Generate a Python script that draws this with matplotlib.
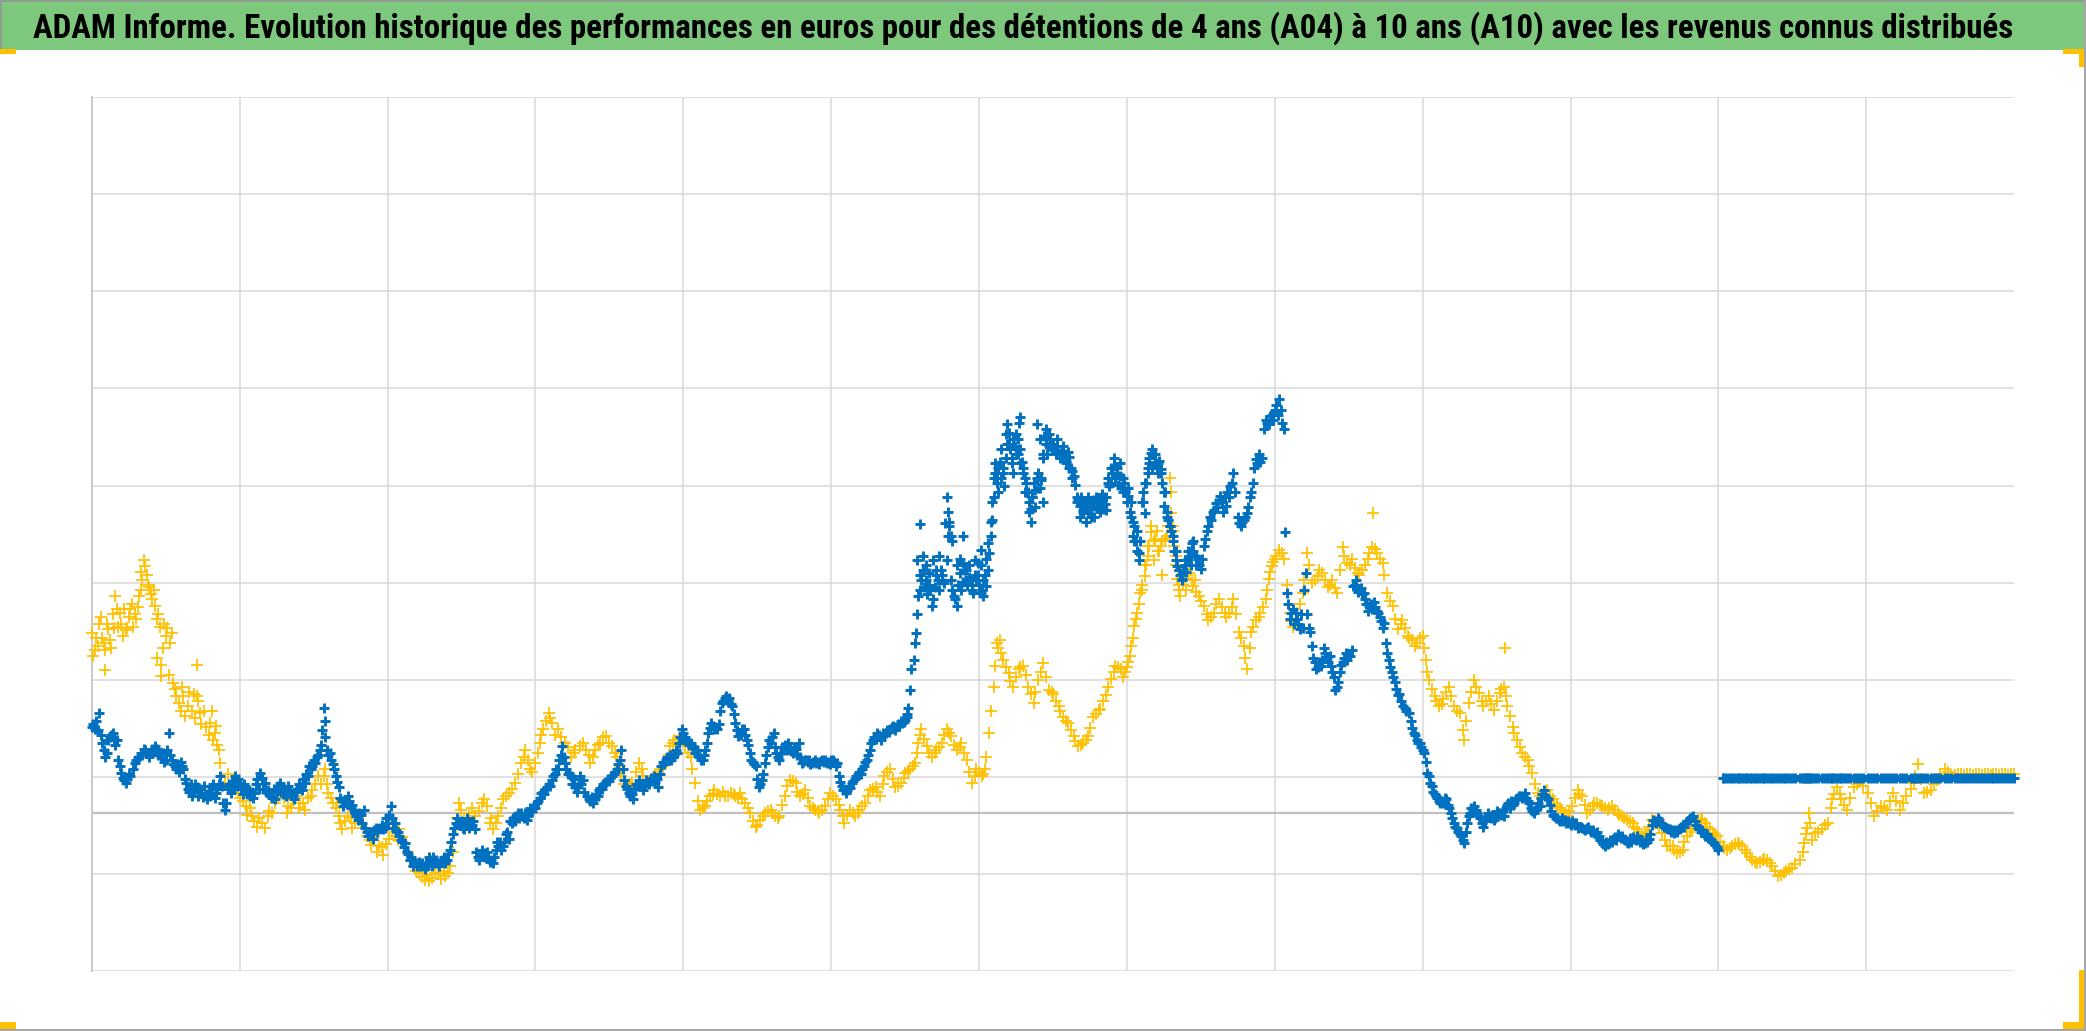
import matplotlib
matplotlib.use("Agg")
import matplotlib.pyplot as plt
from matplotlib.patches import Rectangle
from matplotlib import font_manager as fm
import numpy as np

TITLE = ("ADAM Informe. Evolution historique des performances en euros pour des "
         "détentions de 4 ans (A04) à 10 ans (A10) avec les revenus connus distribués")

# ---------------- data (x in grid units 0..13, y relative to zero line) ----------
a04_part1 = [(0.00,1.85),(0.02,1.68),(0.03,1.80),(0.05,1.95),(0.06,2.02),(0.08,1.75),(0.09,1.68),
    (0.11,1.89),(0.12,1.78),(0.14,2.05),(0.16,2.23),(0.17,2.10),(0.18,1.92),(0.20,1.95),(0.21,1.82),
    (0.23,1.88),(0.25,2.02),(0.26,2.10),(0.28,1.92),(0.30,2.00),(0.32,2.23),(0.33,2.30),(0.34,2.40),
    (0.35,2.60),(0.36,2.54),(0.37,2.45),(0.39,2.33),(0.41,2.20),(0.43,2.13),(0.44,2.00),(0.46,1.92),
    (0.47,1.41),(0.48,1.70),(0.50,1.82),(0.53,1.75),(0.55,1.34),(0.59,1.13),(0.62,1.20),(0.65,1.10),
    (0.69,1.23),(0.71,1.20),(0.73,1.03),(0.77,0.89),(0.80,0.93),(0.83,0.82),(0.86,0.65),(0.87,0.51),
    (0.90,0.31),(0.95,0.31),(0.99,0.21),(1.04,0.07),(1.08,-0.03),(1.12,-0.14),(1.15,-0.10),(1.19,-0.03),
    (1.24,0.10),(1.28,0.24),(1.33,0.07),(1.36,0.14),(1.41,0.10),(1.44,0.03),(1.49,0.24),(1.53,0.38),
    (1.57,0.38),(1.60,0.21),(1.63,0.10),(1.67,-0.03),(1.69,-0.17),(1.73,-0.03),(1.78,-0.10),(1.82,-0.10),
    (1.86,-0.24),(1.89,-0.33),(1.94,-0.34),(1.97,-0.43),(2.01,-0.27),(2.05,-0.24),(2.08,-0.17),(2.12,-0.31),
    (2.16,-0.48),(2.21,-0.62),(2.25,-0.69),(2.30,-0.67),(2.34,-0.63),(2.39,-0.65),(2.42,-0.55),(2.46,-0.17),
    (2.50,0.03),(2.55,0.00),(2.59,-0.03),(2.64,0.10),(2.67,0.07),(2.69,-0.10),(2.71,-0.17),(2.75,-0.03),
    (2.78,0.14),(2.82,0.21),(2.86,0.31),(2.90,0.51),(2.93,0.65),(2.96,0.45),(3.00,0.51),(3.03,0.72),
    (3.05,0.86),(3.09,1.03),(3.11,0.93),(3.15,0.86),(3.20,0.72),(3.24,0.58),(3.27,0.65)]
a04_part2 = [(3.30,0.69),(3.34,0.65),(3.37,0.51),(3.40,0.65),(3.44,0.72),(3.48,0.79),(3.52,0.69),
    (3.55,0.58),(3.58,0.38),(3.62,0.27),(3.65,0.31),(3.70,0.51),(3.73,0.38),(3.77,0.31),(3.81,0.38),
    (3.84,0.45),(3.88,0.51),(3.91,0.69),(3.94,0.75),(3.98,0.79),(4.01,0.69),(4.05,0.58),(4.08,0.31),
    (4.11,0.03),(4.15,0.07),(4.18,0.17),(4.21,0.24),(4.25,0.17),(4.28,0.17),(4.32,0.21),(4.35,0.17),
    (4.38,0.21),(4.42,0.10),(4.45,0.00),(4.49,-0.14),(4.52,-0.07),(4.55,0.00),(4.59,0.03),(4.62,-0.03),
    (4.65,-0.03),(4.69,0.17),(4.72,0.34),(4.76,0.31),(4.79,0.17),(4.82,0.24),(4.86,0.07),(4.89,0.03),
    (4.92,0.00),(4.96,0.07),(4.99,0.21),(5.03,0.14),(5.06,0.03),(5.09,-0.10),(5.13,0.03),(5.16,-0.03),
    (5.19,0.03),(5.23,0.10),(5.26,0.24),(5.30,0.27),(5.33,0.17),(5.36,0.38),(5.40,0.45),(5.43,0.27),
    (5.47,0.31),(5.50,0.41),(5.53,0.45),(5.57,0.51),(5.59,0.72),(5.61,0.86),(5.65,0.69),(5.68,0.58),
    (5.71,0.65),(5.75,0.72),(5.78,0.86),(5.81,0.79),(5.85,0.65),(5.88,0.72),(5.92,0.55),(5.95,0.31),
    (5.98,0.45),(6.02,0.38),(6.04,0.45),(6.05,0.58),(6.07,0.82),(6.08,1.05),(6.10,1.30),(6.11,1.51),
    (6.12,1.75),(6.14,1.78),(6.16,1.58),(6.20,1.44),(6.23,1.30),(6.27,1.48),(6.30,1.51),(6.33,1.30),
    (6.37,1.13),(6.40,1.37),(6.43,1.54),(6.47,1.27),(6.50,1.23),(6.54,1.10),(6.57,0.99),(6.60,0.93),
    (6.64,0.79),(6.67,0.69),(6.70,0.72),(6.74,0.79),(6.77,0.99),(6.81,1.06)]
a04_part3 = [(6.82,1.07),(6.86,1.21),(6.89,1.38),(6.92,1.51),(6.96,1.48),(6.99,1.45),(7.01,1.55),
    (7.03,1.72),(7.05,1.93),(7.07,2.06),(7.09,2.27),(7.12,2.44),(7.14,2.65),(7.16,2.89),(7.19,2.82),
    (7.23,2.75),(7.26,2.82),(7.30,3.09),(7.32,2.75),(7.34,2.41),(7.36,2.23),(7.39,2.41),(7.42,2.47),
    (7.45,2.34),(7.49,2.23),(7.52,2.13),(7.55,1.99),(7.59,2.06),(7.62,2.20),(7.66,2.06),(7.69,2.06),
    (7.72,2.20),(7.76,1.86),(7.79,1.72),(7.81,1.48),(7.84,1.86),(7.87,1.99),(7.90,2.06),(7.94,2.20),
    (7.96,2.41),(7.98,2.54),(8.00,2.61)]
a04_part4 = [(8.03,2.71),(8.06,2.61),(8.10,2.06),(8.12,1.92),(8.15,2.06),(8.19,2.26),(8.22,2.68),
    (8.25,2.37),(8.29,2.44),(8.32,2.47),(8.36,2.33),(8.39,2.40),(8.42,2.26),(8.46,2.74),(8.49,2.57),
    (8.52,2.61),(8.56,2.47),(8.59,2.50),(8.63,2.61),(8.66,2.74),(8.665,3.09),(8.69,2.68),(8.73,2.57),
    (8.76,2.26),(8.80,2.13),(8.83,1.89),(8.86,1.99),(8.90,1.82),(8.93,1.78),(8.96,1.75),(9.00,1.82),
    (9.02,1.58),(9.04,1.37),(9.08,1.20),(9.11,1.10),(9.14,1.17),(9.18,1.30),(9.21,1.10),(9.25,1.03),
    (9.28,0.75),(9.31,1.13),(9.35,1.37),(9.38,1.24),(9.41,1.10),(9.45,1.20),(9.48,1.06),(9.52,1.24),
    (9.55,1.30),(9.555,1.70),(9.57,1.10),(9.61,0.89),(9.64,0.75),(9.67,0.62),(9.71,0.55),(9.74,0.41),
    (9.78,0.21),(9.81,0.14),(9.84,0.24),(9.88,0.14),(9.91,0.07),(9.94,0.03),(9.98,-0.03),(10.01,0.07),
    (10.05,0.24),(10.08,0.17),(10.11,0.00),(10.15,0.07),(10.18,0.10),(10.21,0.07),(10.25,0.03),
    (10.28,0.07),(10.32,0.00),(10.35,-0.03),(10.38,-0.07),(10.42,-0.10),(10.45,-0.17),(10.48,-0.24),
    (10.52,-0.21),(10.55,-0.07),(10.59,-0.10),(10.62,-0.21),(10.65,-0.34),(10.69,-0.34),(10.72,-0.41),
    (10.76,-0.38),(10.79,-0.24),(10.82,-0.17),(10.86,-0.07),(10.89,-0.07),(10.92,-0.14),(10.96,-0.21),
    (10.99,-0.24),(11.03,-0.34),(11.06,-0.38),(11.09,-0.34),(11.13,-0.31),(11.16,-0.34),(11.19,-0.41),
    (11.23,-0.48),(11.26,-0.51),(11.30,-0.48),(11.33,-0.48),(11.36,-0.55),(11.40,-0.65)]
a04_part5 = [(11.42,-0.64),(11.46,-0.60),(11.50,-0.57),(11.55,-0.48),(11.58,-0.31),(11.60,-0.15),
    (11.61,0.00),(11.65,-0.21),(11.70,-0.17),(11.74,-0.10),(11.77,0.14),(11.80,0.27),(11.83,0.14),
    (11.87,0.03),(11.92,0.27),(11.96,0.34),(12.01,0.21),(12.05,-0.03),(12.10,0.07),(12.14,0.03),
    (12.18,0.21),(12.23,0.03),(12.27,0.17),(12.32,0.31),(12.35,0.50),(12.39,0.21),(12.44,0.24),
    (12.48,0.34),(12.53,0.45),(12.57,0.39),(12.62,0.40),(12.66,0.39),(12.70,0.40),(12.74,0.40),
    (12.78,0.39),(12.82,0.40),(12.86,0.40),(12.90,0.39),(12.94,0.40),(12.98,0.40),(13.00,0.40)]
# additional readings of the A04 point cloud (spread around the trend)
a04_cloud = [(0.01,1.62),(0.04,1.72),(0.07,1.80),(0.09,1.47),(0.10,1.95),(0.13,1.70),(0.15,1.90),
    (0.19,2.06),(0.22,2.10),(0.24,1.90),(0.27,2.15),(0.29,2.05),(0.31,2.12),(0.33,2.48),(0.38,2.35),
    (0.40,2.25),(0.42,2.30),(0.44,1.60),(0.45,2.05),(0.47,1.52),(0.49,1.95),(0.51,1.90),(0.52,1.42),
    (0.54,1.85),(0.56,1.28),(0.57,1.20),(0.60,1.05),(0.61,1.30),(0.63,1.00),(0.66,1.25),(0.68,1.05),
    (0.70,0.98),(0.71,1.52),(0.72,1.15),(0.74,0.92),(0.76,1.05),(0.79,0.80),(0.81,1.05),(0.82,0.75),
    (0.84,0.90),(0.85,0.70),(0.92,0.40),(0.93,0.25),(0.97,0.28),(1.00,0.15),(1.02,0.12),(1.05,-0.02),
    (1.07,0.05),(1.10,-0.08),(1.13,-0.05),(1.17,-0.15),(1.20,0.02),(1.22,0.00),(1.26,0.15),(1.30,0.15),
    (1.32,0.00),(1.35,0.05),(1.38,0.18),(1.40,0.05),(1.43,0.10),(1.46,0.15),(1.48,0.18),(1.51,0.30),
    (1.55,0.30),(1.58,0.45),(1.59,0.30),(1.62,0.15),(1.65,0.05),(1.66,0.10),(1.68,-0.10),(1.71,-0.08),
    (1.75,-0.05),(1.76,-0.15),(1.80,-0.05),(1.84,-0.15),(1.88,-0.28),(1.91,-0.25),(1.93,-0.40),
    (1.96,-0.35),(1.99,-0.32),(2.03,-0.20),(2.07,-0.28),(2.10,-0.25),(2.14,-0.40),(2.18,-0.55),
    (2.19,-0.60),(2.23,-0.66),(2.27,-0.64),(2.28,-0.70),(2.32,-0.62),(2.36,-0.68),(2.38,-0.60),
    (2.41,-0.62),(2.44,-0.40),(2.47,-0.05),(2.48,0.10),(2.52,-0.05),(2.57,0.05),(2.62,0.02),(2.65,0.14),
    (2.70,-0.05),(2.73,-0.10),(2.77,0.05),(2.80,0.18),(2.84,0.25),(2.88,0.40),(2.92,0.58),(2.95,0.55),
    (2.98,0.42),(3.02,0.62),(3.04,0.80),(3.07,0.95),(3.10,0.98),(3.13,0.80),(3.17,0.78),(3.22,0.68),
    (3.26,0.62),(3.32,0.72),(3.36,0.60),(3.39,0.58),(3.42,0.70),(3.46,0.78),(3.50,0.72),(3.54,0.62),
    (3.57,0.48),(3.60,0.30),(3.64,0.30),(3.68,0.42),(3.72,0.45),(3.75,0.32),(3.79,0.35),(3.83,0.42),
    (3.86,0.48),(3.90,0.60),(3.93,0.72),(3.96,0.72),(4.00,0.74),(4.03,0.62),(4.06,0.45),(4.10,0.12),
    (4.13,0.05),(4.16,0.12),(4.20,0.20),(4.23,0.20),(4.27,0.22),(4.30,0.18),(4.34,0.20),(4.37,0.15),
    (4.40,0.14),(4.44,0.05),(4.47,-0.08),(4.50,-0.12),(4.54,-0.03),(4.57,0.02),(4.60,0.00),(4.64,-0.05),
    (4.67,0.08),(4.70,0.28),(4.74,0.33),(4.77,0.22),(4.81,0.20),(4.84,0.15),(4.88,0.05),(4.91,0.02),
    (4.94,0.03),(4.98,0.14),(5.01,0.18),(5.05,0.08),(5.08,-0.03),(5.11,-0.02),(5.15,0.00),(5.18,0.00),
    (5.21,0.07),(5.25,0.18),(5.28,0.25),(5.31,0.22),(5.35,0.30),(5.38,0.42),(5.42,0.35),(5.45,0.28),
    (5.49,0.36),(5.52,0.43),(5.55,0.48),(5.58,0.62),(5.60,0.80),(5.63,0.76),(5.66,0.62),(5.70,0.62),
    (5.73,0.68),(5.76,0.80),(5.80,0.82),(5.83,0.70),(5.87,0.68),(5.90,0.62),(5.93,0.42),(5.97,0.38),
    (6.00,0.42),(6.03,0.40),(6.13,1.70),(6.15,1.65),(6.18,1.50),(6.21,1.36),(6.25,1.40),(6.28,1.50),
    (6.32,1.42),(6.35,1.22),(6.38,1.25),(6.42,1.45),(6.45,1.40),(6.49,1.25),(6.52,1.15),(6.55,1.05),
    (6.59,0.95),(6.62,0.85),(6.65,0.74),(6.69,0.70),(6.72,0.75),(6.75,0.88),(6.79,1.02),(6.84,1.15),
    (6.87,1.30),(6.91,1.45),(6.94,1.50),(6.97,1.40),(7.00,1.50),(7.02,1.62),(7.04,1.80),(7.06,2.00),
    (7.08,2.15),(7.10,2.35),(7.13,2.55),(7.15,2.75),(7.18,2.80),(7.21,2.70),(7.24,2.80),(7.28,2.95),
    (7.31,2.90),(7.33,2.55),(7.35,2.30),(7.38,2.35),(7.40,2.45),(7.44,2.40),(7.47,2.28),(7.50,2.18),
    (7.54,2.05),(7.57,2.02),(7.60,2.15),(7.64,2.12),(7.67,2.02),(7.71,2.12),(7.74,2.05),(7.77,1.80),
    (7.80,1.60),(7.83,1.70),(7.85,1.92),(7.89,2.02),(7.92,2.12),(7.95,2.30),(7.97,2.48),(7.99,2.58),
    (8.01,2.65),(8.05,2.68),(8.08,2.35),(8.11,1.98),(8.14,2.00),(8.17,2.15),(8.20,2.40),(8.23,2.55),
    (8.27,2.40),(8.30,2.50),(8.34,2.40),(8.37,2.35),(8.41,2.32),(8.44,2.50),(8.47,2.65),(8.51,2.55),
    (8.54,2.52),(8.57,2.45),(8.61,2.55),(8.64,2.68),(8.68,2.72),(8.71,2.62),(8.74,2.45),(8.78,2.18),
    (8.81,2.00),(8.85,1.95),(8.88,1.90),(8.91,1.80),(8.95,1.72),(8.98,1.80),(9.01,1.70),(9.03,1.45),
    (9.06,1.28),(9.09,1.15),(9.13,1.12),(9.16,1.25),(9.19,1.20),(9.23,1.05),(9.27,0.85),(9.29,0.95),
    (9.33,1.25),(9.36,1.30),(9.40,1.15),(9.43,1.15),(9.46,1.12),(9.50,1.15),(9.53,1.28),(9.56,1.20),
    (9.59,1.00),(9.62,0.82),(9.66,0.68),(9.69,0.58),(9.72,0.48),(9.76,0.30),(9.79,0.18),(9.83,0.20),
    (9.86,0.18),(9.89,0.10),(9.93,0.05),(9.96,0.00),(9.99,0.02),(10.03,0.15),(10.06,0.20),(10.10,0.08),
    (10.13,0.03),(10.16,0.10),(10.20,0.08),(10.23,0.05),(10.26,0.05),(10.30,0.03),(10.33,-0.02),
    (10.36,-0.05),(10.40,-0.08),(10.43,-0.14),(10.46,-0.20),(10.50,-0.22),(10.53,-0.14),(10.57,-0.08),
    (10.60,-0.15),(10.64,-0.28),(10.67,-0.34),(10.70,-0.38),(10.74,-0.40),(10.77,-0.30),(10.81,-0.20),
    (10.84,-0.12),(10.88,-0.06),(10.91,-0.10),(10.94,-0.17),(10.98,-0.22),(11.01,-0.30),(11.04,-0.36),
    (11.08,-0.36),(11.11,-0.32),(11.14,-0.32),(11.18,-0.38),(11.21,-0.45),(11.25,-0.50),(11.28,-0.50),
    (11.31,-0.47),(11.35,-0.52),(11.38,-0.60),(11.44,-0.62),(11.48,-0.58),(11.52,-0.53),(11.57,-0.40),
    (11.59,-0.22),(11.62,-0.10),(11.63,-0.28),(11.67,-0.20),(11.72,-0.12),(11.76,0.05),(11.78,0.20),
    (11.82,0.20),(11.85,0.08),(11.89,0.15),(11.94,0.30),(11.98,0.28),(12.03,0.10),(12.07,0.02),
    (12.12,0.05),(12.16,0.12),(12.20,0.12),(12.25,0.10),(12.30,0.25),(12.33,0.38),(12.37,0.35),
    (12.41,0.22),(12.46,0.30),(12.50,0.40),(12.55,0.42),(12.60,0.39),(12.64,0.40),(12.68,0.40),
    (12.72,0.39),(12.76,0.40),(12.80,0.40),(12.84,0.39),(12.88,0.40),(12.92,0.40),(12.96,0.39),
    (7.10,2.30),(7.12,2.55),(7.14,2.75),(7.16,2.95),(7.18,2.60),(7.20,2.90),(7.22,2.70),(7.24,2.45),
    (7.27,2.85),(7.29,3.45),(7.30,3.30),(7.31,2.95),(7.33,2.65),(7.35,2.35),(7.37,2.50),(7.40,2.30),
    (7.43,2.55),(7.46,2.40)]

a10_part1 = [(0.00,0.89),(0.02,0.86),(0.05,1.03),(0.07,0.72),(0.09,0.58),(0.11,0.75),(0.14,0.82),
    (0.17,0.75),(0.18,0.55),(0.20,0.41),(0.23,0.31),(0.26,0.38),(0.29,0.51),(0.33,0.62),(0.36,0.65),
    (0.39,0.58),(0.43,0.69),(0.46,0.62),(0.50,0.55),(0.52,0.82),(0.54,0.55),(0.57,0.45),(0.61,0.48),
    (0.64,0.31),(0.68,0.17),(0.71,0.27),(0.74,0.21),(0.78,0.14),(0.81,0.27),(0.84,0.21),(0.87,0.38),
    (0.90,0.03),(0.94,0.21),(0.97,0.38),(1.00,0.31),(1.04,0.24),(1.07,0.17),(1.10,0.21),(1.14,0.41),
    (1.17,0.31),(1.21,0.17),(1.24,0.14),(1.27,0.31),(1.31,0.17),(1.34,0.24),(1.37,0.14),(1.41,0.27),
    (1.44,0.31),(1.48,0.45),(1.51,0.51),(1.54,0.65),(1.56,0.85),(1.57,1.08),(1.575,0.95),(1.59,0.65),
    (1.62,0.55),(1.64,0.45),(1.67,0.27),(1.70,0.07),(1.73,0.17),(1.77,0.03),(1.80,-0.07),(1.84,0.03),
    (1.87,-0.24),(1.90,-0.27),(1.94,-0.17),(1.97,-0.17),(2.02,0.07),(2.05,-0.10),(2.08,-0.24),
    (2.12,-0.31),(2.15,-0.48),(2.19,-0.51),(2.22,-0.55),(2.25,-0.58),(2.29,-0.48),(2.32,-0.51),
    (2.35,-0.55),(2.39,-0.51),(2.42,-0.38),(2.46,-0.10),(2.49,-0.10),(2.52,-0.17),(2.56,-0.10),
    (2.59,-0.17),(2.61,-0.45),(2.65,-0.41),(2.68,-0.45),(2.71,-0.51),(2.75,-0.34),(2.78,-0.34),
    (2.82,-0.27),(2.84,-0.10),(2.87,-0.03),(2.91,-0.03),(2.94,-0.07),(2.97,0.03),(3.01,0.10),
    (3.04,0.21),(3.08,0.27),(3.11,0.34),(3.14,0.45),(3.18,0.69),(3.20,0.51),(3.23,0.41),(3.27,0.27)]
a10_part2 = [(3.30,0.38),(3.32,0.34),(3.36,0.14),(3.39,0.10),(3.43,0.24),(3.47,0.31),(3.52,0.38),
    (3.55,0.45),(3.58,0.65),(3.60,0.34),(3.63,0.21),(3.66,0.14),(3.70,0.34),(3.73,0.24),(3.76,0.31),
    (3.80,0.38),(3.83,0.27),(3.85,0.48),(3.89,0.58),(3.92,0.55),(3.96,0.62),(3.99,0.86),(4.02,0.75),
    (4.06,0.69),(4.09,0.65),(4.12,0.55),(4.15,0.65),(4.17,0.82),(4.19,0.93),(4.23,0.86),(4.26,1.13),
    (4.29,1.20),(4.33,1.10),(4.35,0.93),(4.37,0.79),(4.41,0.86),(4.43,0.75),(4.46,0.55),(4.49,0.48),
    (4.51,0.27),(4.53,0.34),(4.55,0.51),(4.59,0.72),(4.61,0.82),(4.64,0.58),(4.68,0.65),(4.71,0.72),
    (4.74,0.62),(4.78,0.72),(4.80,0.51),(4.83,0.55),(4.87,0.51),(4.90,0.51),(4.94,0.55),(4.97,0.51),
    (5.00,0.55),(5.04,0.51),(5.05,0.38),(5.08,0.24),(5.10,0.21),(5.14,0.31),(5.17,0.38),(5.21,0.45),
    (5.24,0.55),(5.27,0.72),(5.31,0.82),(5.34,0.75),(5.37,0.82),(5.41,0.89),(5.44,0.89),(5.48,0.93),
    (5.51,0.99),(5.52,1.08),(5.53,1.27),(5.54,1.48),(5.56,1.58),(5.57,1.75),(5.575,1.85),(5.59,2.23),
    (5.61,2.40),(5.63,2.33),(5.66,2.47),(5.68,2.13),(5.70,2.33),(5.74,2.50),(5.76,2.37),(5.77,2.99),
    (5.79,2.85),(5.80,2.95),(5.83,2.23),(5.85,2.13),(5.87,2.47),(5.89,2.57),(5.93,2.43),(5.96,2.26),
    (5.99,2.57),(6.01,2.27),(6.03,2.23),(6.05,2.34)]
a10_part3 = [(6.07,2.68),(6.09,3.02),(6.11,3.50),(6.14,3.61),(6.17,3.37),(6.20,3.91),(6.24,3.78),
    (6.27,4.02),(6.29,3.61),(6.32,3.40),(6.35,3.13),(6.38,3.33),(6.42,3.43),(6.44,3.88),(6.47,3.78),
    (6.51,3.74),(6.54,3.71),(6.57,3.78),(6.61,3.67),(6.64,3.47),(6.68,3.16),(6.71,3.19),(6.74,3.09),
    (6.78,3.16),(6.81,3.23),(6.84,3.13),(6.88,3.37),(6.91,3.57),(6.95,3.47),(6.98,3.40),(7.01,3.26),
    (7.05,2.95),(7.08,2.68),(7.12,3.09),(7.14,3.50),(7.16,3.71),(7.19,3.61),(7.23,3.54),(7.25,3.16),
    (7.28,3.02),(7.31,2.85),(7.34,2.54),(7.37,2.41),(7.41,2.61),(7.44,2.78),(7.48,2.61),(7.50,2.51),
    (7.53,2.82),(7.57,3.02),(7.60,3.19),(7.63,3.26),(7.67,3.16),(7.70,3.37),(7.72,3.50),(7.76,2.99),
    (7.79,3.02),(7.81,3.09),(7.84,3.30),(7.87,3.64),(7.90,3.61),(7.94,4.05),(7.97,4.09),(8.00,4.15),
    (8.03,4.26),(8.05,4.02),(8.07,2.89),(8.08,2.27),(8.11,2.06),(8.14,2.06),(8.17,1.89),(8.21,2.47),
    (8.24,1.86),(8.28,1.48),(8.31,1.51),(8.34,1.65),(8.38,1.51),(8.41,1.27),(8.44,1.45),(8.48,1.65),
    (8.51,1.62),(8.53,2.34),(8.57,2.30),(8.60,2.27),(8.64,2.13),(8.67,2.17),(8.70,2.06),(8.74,1.96),
    (8.76,1.65),(8.79,1.45),(8.83,1.21)]
a10_part4 = [(8.87,1.10),(8.91,1.03),(8.94,0.82),(8.98,0.72),(9.01,0.62),(9.03,0.41),(9.05,0.31),
    (9.09,0.17),(9.12,0.10),(9.16,0.14),(9.19,0.00),(9.22,-0.14),(9.26,-0.24),(9.28,-0.31),(9.31,-0.03),
    (9.35,0.07),(9.38,-0.03),(9.41,-0.14),(9.45,-0.03),(9.48,-0.07),(9.52,0.00),(9.55,-0.03),(9.58,0.10),
    (9.62,0.10),(9.65,0.17),(9.69,0.21),(9.72,0.10),(9.75,0.00),(9.79,0.07),(9.82,0.24),(9.85,0.14),
    (9.89,-0.03),(9.92,-0.07),(9.96,-0.07),(9.99,-0.10),(10.02,-0.10),(10.06,-0.14),(10.09,-0.17),
    (10.12,-0.14),(10.16,-0.21),(10.19,-0.24),(10.23,-0.34),(10.26,-0.31),(10.29,-0.27),(10.33,-0.24),
    (10.36,-0.27),(10.39,-0.31),(10.43,-0.27),(10.46,-0.27),(10.50,-0.31),(10.53,-0.27),(10.56,-0.07),
    (10.60,-0.07),(10.63,-0.14),(10.67,-0.17),(10.70,-0.21),(10.73,-0.17),(10.77,-0.14),(10.80,-0.07),
    (10.83,-0.03),(10.87,-0.17),(10.90,-0.21),(10.94,-0.27),(10.97,-0.31),(11.00,-0.38)]
# additional readings of the A10 point cloud
a10_cloud = [(0.01,0.92),(0.03,0.95),(0.04,0.85),(0.06,0.80),(0.08,0.65),(0.10,0.62),(0.12,0.78),
    (0.13,0.80),(0.15,0.76),(0.16,0.70),(0.19,0.48),(0.21,0.36),(0.22,0.34),(0.24,0.35),(0.25,0.40),
    (0.28,0.45),(0.30,0.55),(0.31,0.58),(0.34,0.60),(0.35,0.66),(0.37,0.62),(0.38,0.62),(0.40,0.63),
    (0.41,0.66),(0.42,0.64),(0.44,0.66),(0.45,0.60),(0.47,0.58),(0.48,0.62),(0.49,0.52),(0.51,0.65),
    (0.53,0.60),(0.55,0.50),(0.56,0.48),(0.58,0.50),(0.59,0.42),(0.60,0.52),(0.62,0.45),(0.63,0.35),
    (0.65,0.25),(0.66,0.22),(0.67,0.30),(0.69,0.22),(0.70,0.30),(0.72,0.18),(0.73,0.25),(0.75,0.16),
    (0.76,0.28),(0.77,0.20),(0.79,0.22),(0.80,0.18),(0.82,0.30),(0.83,0.15),(0.85,0.25),(0.86,0.30),
    (0.88,0.28),(0.89,0.10),(0.91,0.10),(0.92,0.25),(0.93,0.30),(0.95,0.32),(0.96,0.26),(0.98,0.28),
    (0.99,0.35),(1.01,0.25),(1.02,0.20),(1.03,0.30),(1.05,0.20),(1.06,0.24),(1.08,0.22),(1.09,0.15),
    (1.11,0.30),(1.12,0.35),(1.13,0.25),(1.15,0.36),(1.16,0.25),(1.18,0.22),(1.19,0.24),(1.20,0.20),
    (1.22,0.15),(1.23,0.25),(1.25,0.22),(1.26,0.28),(1.28,0.22),(1.29,0.20),(1.30,0.25),(1.32,0.20),
    (1.33,0.28),(1.35,0.20),(1.36,0.18),(1.38,0.22),(1.39,0.25),(1.40,0.30),(1.42,0.24),(1.43,0.35),
    (1.45,0.40),(1.46,0.38),(1.47,0.48),(1.49,0.48),(1.50,0.55),(1.52,0.58),(1.53,0.60),(1.55,0.70),
    (1.58,0.78),(1.60,0.60),(1.61,0.62),(1.63,0.50),(1.65,0.38),(1.66,0.32),(1.68,0.15),(1.69,0.12),
    (1.71,0.12),(1.72,0.10),(1.74,0.12),(1.75,0.05),(1.76,0.08),(1.78,0.00),(1.79,-0.03),(1.81,0.00),
    (1.82,-0.02),(1.83,-0.10),(1.85,-0.15),(1.86,-0.20),(1.88,-0.22),(1.89,-0.20),(1.91,-0.18),
    (1.92,-0.15),(1.93,-0.20),(1.95,-0.15),(1.96,-0.12),(1.98,-0.15),(1.99,-0.05),(2.00,-0.10),
    (2.01,-0.02),(2.03,-0.05),(2.04,-0.15),(2.06,-0.18),(2.07,-0.20),(2.09,-0.28),(2.10,-0.30),
    (2.11,-0.35),(2.13,-0.40),(2.14,-0.42),(2.16,-0.45),(2.17,-0.55),(2.18,-0.50),(2.20,-0.55),
    (2.21,-0.50),(2.23,-0.52),(2.24,-0.55),(2.26,-0.52),(2.27,-0.55),(2.28,-0.45),(2.30,-0.55),
    (2.31,-0.45),(2.33,-0.48),(2.34,-0.52),(2.36,-0.50),(2.37,-0.48),(2.38,-0.45),(2.40,-0.48),
    (2.41,-0.42),(2.43,-0.30),(2.44,-0.22),(2.45,-0.15),(2.47,-0.05),(2.48,-0.12),(2.50,-0.08),
    (2.51,-0.15),(2.53,-0.10),(2.54,-0.05),(2.55,-0.15),(2.57,-0.12),(2.58,-0.08),(2.60,-0.40),
    (2.62,-0.48),(2.63,-0.42),(2.64,-0.38),(2.66,-0.45),(2.67,-0.40),(2.69,-0.50),(2.70,-0.48),
    (2.72,-0.45),(2.73,-0.38),(2.74,-0.30),(2.76,-0.30),(2.77,-0.38),(2.79,-0.30),(2.80,-0.22),
    (2.81,-0.20),(2.83,-0.08),(2.85,-0.05),(2.86,-0.08),(2.88,0.00),(2.89,-0.05),(2.90,0.00),
    (2.92,-0.05),(2.93,0.00),(2.95,-0.03),(2.96,0.05),(2.98,0.02),(2.99,0.08),(3.00,0.05),(3.02,0.12),
    (3.03,0.15),(3.05,0.22),(3.06,0.20),(3.07,0.25),(3.09,0.30),(3.10,0.28),(3.12,0.38),(3.13,0.40),
    (3.15,0.45),(3.16,0.55),(3.17,0.60),(3.19,0.58),(3.21,0.45),(3.22,0.40),(3.24,0.38),(3.25,0.30),
    (3.26,0.35),(3.28,0.22),(3.29,0.28),(3.31,0.30),(3.33,0.22),(3.35,0.18),(3.37,0.12),(3.38,0.16),
    (3.40,0.14),(3.41,0.20),(3.42,0.18),(3.44,0.26),(3.45,0.25),(3.46,0.30),(3.48,0.32),(3.49,0.35),
    (3.50,0.33),(3.51,0.38),(3.53,0.40),(3.54,0.42),(3.56,0.50),(3.57,0.55),(3.59,0.45),(3.61,0.28),
    (3.62,0.25),(3.64,0.18),(3.65,0.20),(3.67,0.25),(3.68,0.30),(3.69,0.28),(3.71,0.30),(3.72,0.28),
    (3.74,0.30),(3.75,0.34),(3.77,0.30),(3.78,0.36),(3.79,0.33),(3.81,0.32),(3.82,0.35),(3.84,0.40),
    (3.86,0.52),(3.87,0.50),(3.88,0.55),(3.90,0.55),(3.91,0.60),(3.93,0.58),(3.94,0.60),(3.95,0.65),
    (3.97,0.72),(3.98,0.78),(4.00,0.82),(4.01,0.78),(4.03,0.72),(4.04,0.70),(4.05,0.72),(4.07,0.68),
    (4.08,0.62),(4.10,0.60),(4.11,0.58),(4.13,0.55),(4.14,0.60),(4.16,0.72),(4.18,0.88),(4.20,0.90),
    (4.21,0.86),(4.22,0.88),(4.24,0.92),(4.25,1.05),(4.27,1.15),(4.28,1.18),(4.30,1.15),(4.31,1.18),
    (4.32,1.12),(4.34,1.02),(4.36,0.85),(4.38,0.82),(4.39,0.80),(4.40,0.86),(4.42,0.80),(4.44,0.70),
    (4.45,0.62),(4.47,0.52),(4.48,0.50),(4.50,0.35),(4.52,0.30),(4.54,0.40),(4.56,0.60),(4.57,0.68),
    (4.58,0.75),(4.60,0.78),(4.62,0.68),(4.63,0.62),(4.65,0.55),(4.66,0.62),(4.67,0.68),(4.69,0.70),
    (4.70,0.65),(4.72,0.68),(4.73,0.64),(4.75,0.68),(4.76,0.66),(4.77,0.60),(4.79,0.58),(4.81,0.53),
    (4.82,0.55),(4.84,0.52),(4.85,0.55),(4.86,0.50),(4.88,0.53),(4.89,0.55),(4.91,0.52),(4.92,0.50),
    (4.93,0.54),(4.95,0.52),(4.96,0.55),(4.98,0.53),(4.99,0.50),(5.01,0.55),(5.02,0.52),(5.03,0.48),
    (5.06,0.32),(5.07,0.28),(5.09,0.25),(5.11,0.24),(5.12,0.28),(5.13,0.26),(5.15,0.33),(5.16,0.35),
    (5.18,0.40),(5.19,0.42),(5.20,0.40),(5.22,0.48),(5.23,0.52),(5.25,0.60),(5.26,0.65),(5.28,0.75),
    (5.29,0.78),(5.30,0.76),(5.32,0.80),(5.33,0.78),(5.35,0.82),(5.36,0.80),(5.38,0.85),(5.39,0.83),
    (5.40,0.86),(5.42,0.90),(5.43,0.85),(5.45,0.92),(5.46,0.90),(5.47,0.95),(5.49,0.94),(5.50,0.96),
    (5.515,1.02),(5.58,2.05),(5.60,2.30),(5.62,2.50),(5.64,2.40),(5.65,2.25),(5.67,2.30),(5.69,2.20),
    (5.71,2.45),(5.72,2.40),(5.73,2.30),(5.75,2.45),(5.78,2.60),(5.81,2.40),(5.82,2.30),(5.84,2.20),
    (5.86,2.35),(5.88,2.30),(5.90,2.50),(5.91,2.40),(5.92,2.35),(5.94,2.40),(5.95,2.30),(5.97,2.45),
    (5.98,2.40),(6.00,2.35),(6.02,2.30),(6.04,2.45),(6.06,2.50),(6.08,2.85),(6.10,3.25),(6.12,3.45),
    (6.13,3.55),(6.15,3.45),(6.16,3.50),(6.18,3.65),(6.19,3.80),(6.21,3.75),(6.22,3.60),(6.23,3.85),
    (6.25,3.70),(6.26,3.85),(6.28,3.75),(6.30,3.50),(6.31,3.30),(6.33,3.30),(6.34,3.20),(6.36,3.25),
    (6.37,3.40),(6.39,3.45),(6.40,3.50),(6.41,3.35),(6.43,3.65),(6.45,3.80),(6.46,3.70),(6.48,3.85),
    (6.49,3.75),(6.50,3.80),(6.52,3.70),(6.53,3.78),(6.55,3.65),(6.56,3.72),(6.58,3.70),(6.59,3.62),
    (6.60,3.72),(6.62,3.55),(6.63,3.52),(6.65,3.38),(6.66,3.25),(6.67,3.22),(6.69,3.25),(6.70,3.12),
    (6.72,3.20),(6.73,3.15),(6.75,3.20),(6.76,3.05),(6.77,3.22),(6.79,3.25),(6.80,3.15),(6.82,3.20),
    (6.83,3.28),(6.85,3.18),(6.86,3.25),(6.87,3.45),(6.89,3.40),(6.90,3.50),(6.92,3.45),(6.93,3.55),
    (6.94,3.38),(6.96,3.35),(6.97,3.30),(6.99,3.32),(7.00,3.20),(7.02,3.10),(7.03,3.05),(7.04,2.85),
    (7.06,2.80),(7.07,2.90),(7.09,2.80),(7.10,3.20),(7.11,3.30),(7.13,3.40),(7.15,3.60),(7.17,3.55),
    (7.18,3.70),(7.20,3.55),(7.21,3.50),(7.22,3.62),(7.24,3.40),(7.26,3.30),(7.27,3.10),(7.29,2.95),
    (7.30,2.90),(7.32,2.70),(7.33,2.60),(7.35,2.50),(7.36,2.45),(7.38,2.50),(7.39,2.55),(7.40,2.48),
    (7.42,2.65),(7.43,2.70),(7.45,2.70),(7.46,2.65),(7.47,2.55),(7.49,2.55),(7.51,2.62),(7.52,2.75),
    (7.54,2.90),(7.55,2.95),(7.56,3.05),(7.58,3.10),(7.59,3.12),(7.61,3.15),(7.62,3.22),(7.64,3.20),
    (7.65,3.10),(7.66,3.25),(7.68,3.30),(7.69,3.25),(7.71,3.40),(7.73,3.30),(7.75,3.05),(7.77,2.95),
    (7.78,3.00),(7.80,3.05),(7.82,3.15),(7.83,3.25),(7.85,3.40),(7.86,3.55),(7.88,3.60),(7.89,3.70),
    (7.91,3.65),(7.93,3.95),(7.95,4.02),(7.96,4.00),(7.98,4.10),(7.99,4.05),(8.01,4.20),(8.02,4.10),
    (8.04,4.15),(8.06,3.95),(8.09,2.15),(8.10,2.00),(8.12,2.10),(8.13,1.95),(8.15,2.00),(8.16,1.95),
    (8.18,2.05),(8.19,1.90),(8.20,2.30),(8.22,2.05),(8.23,1.90),(8.25,1.72),(8.26,1.60),(8.27,1.55),
    (8.29,1.50),(8.30,1.55),(8.32,1.58),(8.33,1.70),(8.35,1.60),(8.36,1.55),(8.37,1.62),(8.39,1.45),
    (8.40,1.40),(8.42,1.30),(8.43,1.35),(8.45,1.52),(8.46,1.55),(8.47,1.60),(8.49,1.58),(8.50,1.62),
    (8.52,1.68),(8.54,2.35),(8.55,2.40),(8.56,2.28),(8.58,2.32),(8.59,2.25),(8.61,2.20),(8.62,2.15),
    (8.63,2.08),(8.65,2.15),(8.66,2.10),(8.68,2.12),(8.69,2.08),(8.71,2.02),(8.72,1.98),(8.73,1.90),
    (8.75,1.75),(8.77,1.58),(8.78,1.50),(8.80,1.40),(8.81,1.35),(8.82,1.28),(8.84,1.22),(8.85,1.15),
    (8.88,1.08),(8.89,1.05),(8.92,0.95),(8.93,0.88),(8.95,0.80),(8.96,0.75),(8.97,0.72),(8.99,0.68),
    (9.00,0.65),(9.02,0.52),(9.04,0.38),(9.06,0.28),(9.07,0.22),(9.08,0.20),(9.10,0.15),(9.11,0.12),
    (9.13,0.12),(9.14,0.10),(9.15,0.15),(9.17,0.08),(9.18,0.05),(9.20,-0.05),(9.21,-0.10),(9.23,-0.15),
    (9.24,-0.20),(9.25,-0.22),(9.27,-0.28),(9.29,-0.20),(9.30,-0.10),(9.32,0.00),(9.33,0.05),(9.34,0.02),
    (9.36,0.03),(9.37,0.00),(9.39,-0.05),(9.40,-0.10),(9.42,-0.08),(9.43,-0.05),(9.44,0.00),(9.46,-0.05),
    (9.47,-0.02),(9.49,-0.05),(9.50,0.02),(9.51,0.00),(9.53,-0.02),(9.54,0.02),(9.56,0.05),(9.57,0.08),
    (9.59,0.05),(9.60,0.12),(9.61,0.08),(9.63,0.14),(9.64,0.15),(9.66,0.18),(9.67,0.15),(9.68,0.18),
    (9.70,0.15),(9.71,0.12),(9.73,0.05),(9.74,0.02),(9.76,0.03),(9.77,0.05),(9.78,0.10),(9.80,0.15),
    (9.81,0.20),(9.83,0.18),(9.84,0.15),(9.86,0.08),(9.87,0.02),(9.88,-0.02),(9.90,-0.05),(9.91,-0.05),
    (9.93,-0.08),(9.94,-0.05),(9.95,-0.08),(9.97,-0.10),(9.98,-0.08),(10.00,-0.12),(10.01,-0.08),
    (10.03,-0.12),(10.04,-0.10),(10.05,-0.15),(10.07,-0.14),(10.08,-0.15),(10.10,-0.18),(10.11,-0.15),
    (10.13,-0.18),(10.14,-0.20),(10.15,-0.18),(10.17,-0.22),(10.18,-0.20),(10.20,-0.28),(10.21,-0.30),
    (10.22,-0.32),(10.24,-0.30),(10.25,-0.32),(10.27,-0.28),(10.28,-0.30),(10.30,-0.25),(10.31,-0.28),
    (10.32,-0.22),(10.34,-0.26),(10.35,-0.24),(10.37,-0.28),(10.38,-0.30),(10.40,-0.26),(10.41,-0.30),
    (10.42,-0.25),(10.44,-0.28),(10.45,-0.24),(10.47,-0.30),(10.48,-0.28),(10.49,-0.32),(10.51,-0.28),
    (10.52,-0.30),(10.54,-0.22),(10.55,-0.12),(10.57,-0.08),(10.58,-0.10),(10.59,-0.05),(10.61,-0.10),
    (10.62,-0.12),(10.64,-0.14),(10.65,-0.15),(10.66,-0.16),(10.68,-0.20),(10.69,-0.18),(10.71,-0.18),
    (10.72,-0.20),(10.74,-0.15),(10.75,-0.14),(10.76,-0.12),(10.78,-0.10),(10.79,-0.08),(10.81,-0.05),
    (10.82,-0.04),(10.84,-0.08),(10.85,-0.12),(10.86,-0.15),(10.88,-0.20),(10.89,-0.18),(10.91,-0.24),
    (10.92,-0.22),(10.93,-0.26),(10.95,-0.28),(10.96,-0.30),(10.98,-0.33),(10.99,-0.35),
    (5.60,2.98),(5.58,2.60),(5.60,2.45),(5.62,2.65),(5.64,2.55),(5.66,2.35),(5.69,2.60),(5.71,2.50),
    (5.73,2.65),(5.75,2.40),(5.78,3.25),(5.79,3.10),(5.80,3.00),(5.81,2.85),(5.82,2.80),(5.85,2.55),
    (5.87,2.62),(5.89,2.38),(5.89,2.85),(5.91,2.50),(5.93,2.55),(5.95,2.35),(5.97,2.60),(5.99,2.45),
    (6.01,2.55),(6.01,2.71),(6.03,2.40),(6.05,2.62),(6.06,2.78),(6.08,3.00),(6.09,3.20),(6.10,3.45),
    (6.11,3.60),(6.12,3.40),(6.13,3.30),(6.15,3.75),(6.16,3.55),(6.18,3.90),(6.19,4.00),(6.20,3.80),
    (6.22,3.65),(6.23,3.50),(6.25,3.90),(6.26,3.70),(6.28,3.60),(6.28,4.08),(6.30,3.55),(6.31,3.45),
    (6.32,3.30),(6.34,3.10),(6.35,3.00),(6.36,3.25),(6.38,3.15),(6.40,3.35),(6.42,3.45),(6.43,3.20),
    (6.39,4.00),(6.41,3.85),(6.43,3.70),(6.45,3.95),(6.47,3.90),(6.49,3.80),(6.51,3.75),(6.53,3.85),
    (6.55,3.70),(6.57,3.72),(6.59,3.60),(6.61,3.55),(6.63,3.45),(6.66,3.20),(6.68,3.05),(6.70,3.10),
    (6.72,3.00),(6.74,3.25),(6.76,3.15),(6.78,3.05),(6.80,3.20),(6.82,3.10),(6.84,3.25),(6.86,3.12),
    (6.87,3.40),(6.89,3.55),(6.91,3.65),(6.93,3.50),(6.95,3.60),(6.97,3.45),(6.99,3.30),(7.01,3.35),
    (7.03,3.20),(7.04,3.00),(7.05,2.80),(7.07,2.70),(7.08,2.60),(7.11,3.20),(7.12,3.40),(7.14,3.55),
    (7.15,3.65),(7.17,3.75),(7.19,3.70),(7.21,3.60),(7.23,3.50),(7.25,3.30),(7.27,3.05),(7.29,2.95),
    (7.31,2.80),(7.33,2.70),(7.35,2.50),(7.37,2.40),(7.39,2.60),(7.41,2.70),(7.43,2.55),(7.45,2.80),
    (7.47,2.65)]
# A10 is flat from 11.02 to the last date
a10_flat_value = 0.36
a10_flat_start, a10_flat_end = 11.02, 13.0

# ---------------- styling -------------------------------------------------------
W, H = 2086, 1031
BLUE = "#0070C0"
GOLD = "#FFC000"
GREEN = "#7DC87D"

fig = plt.figure(figsize=(W / 100, H / 100), dpi=100)
fig.patch.set_facecolor("white")

def px_rect(x0, y0, x1, y1, color, z=5):
    fig.patches.append(Rectangle((x0 / W, 1 - y1 / H), (x1 - x0) / W, (y1 - y0) / H,
                                 transform=fig.transFigure, facecolor=color,
                                 edgecolor="none", zorder=z))

# title bar
px_rect(0, 0, W, 49.5, GREEN, z=1)
# frame lines
px_rect(0, 0, W, 1.5, "#8E9E8E", z=2)
px_rect(0, 0, 1.5, 49, "#8E9E8E", z=2)
px_rect(W - 2, 0, W, H, "#A6A6A6", z=2)
px_rect(0, H - 2, W, H, "#A6A6A6", z=2)
# selection handles (yellow corner marks)
px_rect(0, 49, 16, 54, GOLD)
px_rect(2063, 49, 2084, 54, GOLD)
px_rect(2079, 49, 2084, 67, GOLD)
px_rect(0, 1022, 16, 1029, GOLD)
px_rect(2079, 970, 2084, 1029, GOLD)
px_rect(2063, 1022, 2084, 1029, GOLD)

# title font selection
names = {f.name for f in fm.fontManager.ttflist}
fam = None
stretch = "normal"
for cand in ["Liberation Sans Narrow", "Roboto Condensed", "Open Sans Condensed"]:
    if cand in names:
        fam = cand
        break
if fam is None:
    cond = [f for f in fm.fontManager.ttflist
            if f.name == "DejaVu Sans" and str(f.stretch) in ("condensed", "semi-condensed")]
    if cond:
        fam, stretch = "DejaVu Sans", "condensed"
    else:
        fam = "Liberation Sans"

t = fig.text(33 / W, 1 - 38 / H, TITLE, ha="left", va="baseline", fontsize=26,
             fontweight="bold", family=[fam, "DejaVu Sans"], fontstretch=stretch,
             color="black", zorder=10)
fig.canvas.draw()
wpx = t.get_window_extent().width
target = 1983
t.set_fontsize(min(26 * target / wpx, 30))

# axes
left, right = 91.8 / W, 2014.2 / W
top, bottom = 1 - 97.1 / H, 1 - 971.2 / H
ax = fig.add_axes([left, bottom, right - left, top - bottom])
ymin, ymax = -1.629, 7.371
ax.set_xlim(0, 13)
ax.set_ylim(ymin, ymax)
for s in ("top", "right", "bottom"):
    ax.spines[s].set_visible(False)
ax.spines["left"].set_color("#C9C9C9")
ax.spines["left"].set_linewidth(1.4)
ax.set_xticks(np.arange(0, 13, 1))
ax.set_yticks(ymin + np.arange(0, 10, 1))
ax.tick_params(length=0, labelbottom=False, labelleft=False)
ax.grid(True, color="#D9D9D9", linewidth=1.1)
ax.set_axisbelow(True)
ax.axhline(0, color="#BFBFBF", linewidth=1.6, zorder=1)

def xy(*parts):
    pts = [p for part in parts for p in part]
    return np.array([p[0] for p in pts]), np.array([p[1] for p in pts])

xa, ya = xy(a04_part1, a04_part2, a04_part3, a04_part4, a04_part5, a04_cloud)
xb, yb = xy(a10_part1, a10_part2, a10_part3, a10_part4, a10_cloud)
xf = np.sort(xa[xa >= a10_flat_start])
yf = np.full_like(xf, a10_flat_value)

ax.plot(xa, ya, linestyle="none", marker="+", markersize=8.5, markeredgewidth=1.25,
        color=GOLD, zorder=3, clip_on=False)
ax.plot(xb, yb, linestyle="none", marker="+", markersize=7.5, markeredgewidth=2.1,
        color=BLUE, zorder=4, clip_on=False)
ax.plot(xf, yf, linestyle="-", linewidth=5.0, marker="+", markersize=7.5, markeredgewidth=2.1,
        color=BLUE, zorder=4, clip_on=False, solid_capstyle="butt")

fig.savefig("out.png", dpi=100, facecolor="white")
